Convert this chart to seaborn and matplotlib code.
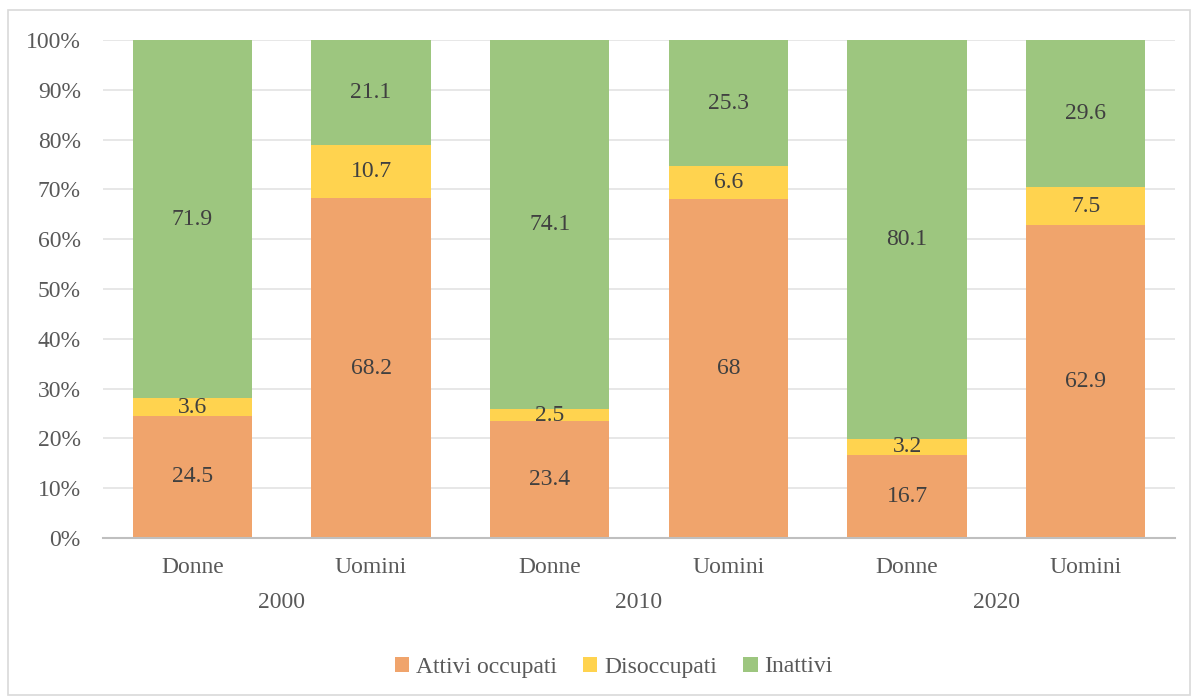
import matplotlib
matplotlib.use("Agg")
import matplotlib.pyplot as plt
import seaborn as sns
import pandas as pd
import numpy as np
from matplotlib.patches import Rectangle, Patch

years = ["2000", "2010", "2020"]
genders = ["Donne", "Uomini"]
groups = ["Donne 2000", "Uomini 2000", "Donne 2010", "Uomini 2010", "Donne 2020", "Uomini 2020"]
attivi_occupati = [24.5, 68.2, 23.4, 68.0, 16.7, 62.9]
disoccupati = [3.6, 10.7, 2.5, 6.6, 3.2, 7.5]
inattivi = [71.9, 21.1, 74.1, 25.3, 80.1, 29.6]
series_names = ["Attivi occupati", "Disoccupati", "Inattivi"]
colors = ["#F0A46C", "#FFD34F", "#9DC67F"]

sns.set_theme(style="white")
plt.rcParams["font.family"] = ["Liberation Serif", "DejaVu Serif"]

df = pd.DataFrame({"group": groups, "a": attivi_occupati, "d": disoccupati, "i": inattivi})
tot = df["a"] + df["d"] + df["i"]
df["c1"] = df["a"] / tot * 100
df["c2"] = (df["a"] + df["d"]) / tot * 100
df["c3"] = tot / tot * 100

fig = plt.figure(figsize=(11.98, 6.99), dpi=100)
ax = fig.add_axes([103 / 1198, 1 - 538 / 699, (1175 - 103) / 1198, (538 - 40) / 699])

bw = 0.667
for col, c in zip(["c3", "c2", "c1"], colors[::-1]):
    sns.barplot(data=df, x="group", y=col, order=groups, color=c, width=bw,
                saturation=1, ax=ax, zorder=3, linewidth=0, errorbar=None)

FS = 17
ax.set_ylim(0, 100)
ax.set_xlim(-0.5, 5.5)
ax.set_yticks(np.arange(0, 101, 10))
ax.set_yticklabels([f"{v}%" for v in range(0, 101, 10)])
ax.yaxis.grid(True, color="#E3E3E3", linewidth=1.2, zorder=0)
ax.set_axisbelow(True)
for s in ["top", "right", "left"]:
    ax.spines[s].set_visible(False)
ax.spines["bottom"].set_color("#BFBFBF")
ax.spines["bottom"].set_linewidth(1.5)
ax.spines["bottom"].set_zorder(5)
ax.tick_params(axis="both", length=0, labelsize=FS, labelcolor="#595959")
ax.tick_params(axis="y", pad=16)
ax.tick_params(axis="x", pad=14)
ax.set_xticks(range(6))
ax.set_xticklabels([g.split()[0] for g in groups])
ax.set_xlabel("")
ax.set_ylabel("")

# year labels
for k, y in enumerate(years):
    ax.text(2 * k + 0.5, -13.0, y, ha="center", va="center", fontsize=FS, color="#595959")

# data labels
for idx in range(6):
    vals = [attivi_occupati[idx], disoccupati[idx], inattivi[idx]]
    lows = [0, df["c1"][idx], df["c2"][idx]]
    highs = [df["c1"][idx], df["c2"][idx], df["c3"][idx]]
    for v, lo, hi in zip(vals, lows, highs):
        ax.text(idx, (lo + hi) / 2, f"{v:g}", ha="center", va="center", fontsize=FS,
                color="#404040", zorder=6)

# legend
handles = [Patch(facecolor=c, edgecolor="none") for c in colors]
fig.legend(handles, series_names, loc="center", bbox_to_anchor=(614 / 1198, 1 - 667 / 699), ncol=3,
           frameon=False, fontsize=FS, handlelength=0.6, handleheight=0.6,
           handletextpad=0.3, columnspacing=1.1, labelcolor="#595959")

# outer border
fig.patches.append(Rectangle((8 / 1198, 4 / 699), 1182 / 1198, 685 / 699, transform=fig.transFigure,
                             fill=False, edgecolor="#D9D9D9", linewidth=1.2))

fig.savefig("out.png", dpi=100)
